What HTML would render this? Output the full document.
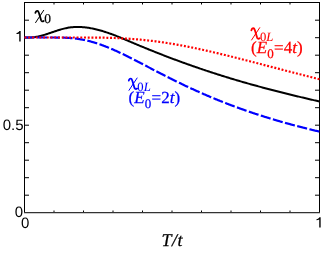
<!DOCTYPE html>
<html><head><meta charset="utf-8"><style>
html,body{margin:0;padding:0;background:#fff;}
svg{display:block;text-rendering:geometricPrecision;will-change:transform}
text{font-family:"Liberation Sans",sans-serif;}
.s, .s text{font-family:"Liberation Serif",serif;}
</style></head><body>
<svg width="327" height="254" viewBox="0 0 327 254">
<defs><path id="one" d="M0,3.1 L0,2.1 C1.4,1.7 2.4,0.9 2.9,0 L4.15,0 L4.15,10.4 L2.75,10.4 L2.75,2.4 C2.0,2.8 1,3.1 0,3.1Z" fill="#000" stroke="none"/><g id="chi" fill="none" stroke="currentColor" stroke-linecap="round"><path d="M0.4,2.9 C0.7,1.3 1.8,0.5 2.8,1.0 C3.7,1.5 4.1,3 4.7,5.5 L6.1,10.2 C6.5,11.4 7.5,11.7 8.7,10.9" stroke-width="1.8"/><path d="M8.7,0.3 L0.6,12.6" stroke-width="1.0"/></g></defs>
<rect width="327" height="254" fill="#fff"/>
<g stroke="#000" stroke-width="1" fill="none">
<line x1="24.5" y1="2" x2="24.5" y2="213"/>
<line x1="319.5" y1="2" x2="319.5" y2="213"/>
<line x1="24" y1="2.5" x2="320" y2="2.5"/>
<line x1="24" y1="212.7" x2="320" y2="212.7" stroke="#333" stroke-width="1.3"/>
<line x1="25" y1="195.2" x2="29" y2="195.2"/><line x1="315" y1="195.2" x2="319" y2="195.2"/><line x1="25" y1="177.7" x2="29" y2="177.7"/><line x1="315" y1="177.7" x2="319" y2="177.7"/><line x1="25" y1="160.2" x2="29" y2="160.2"/><line x1="315" y1="160.2" x2="319" y2="160.2"/><line x1="25" y1="142.7" x2="29" y2="142.7"/><line x1="315" y1="142.7" x2="319" y2="142.7"/><line x1="25" y1="125.2" x2="29" y2="125.2"/><line x1="315" y1="125.2" x2="319" y2="125.2"/><line x1="25" y1="107.7" x2="29" y2="107.7"/><line x1="315" y1="107.7" x2="319" y2="107.7"/><line x1="25" y1="90.2" x2="29" y2="90.2"/><line x1="315" y1="90.2" x2="319" y2="90.2"/><line x1="25" y1="72.7" x2="29" y2="72.7"/><line x1="315" y1="72.7" x2="319" y2="72.7"/><line x1="25" y1="55.2" x2="29" y2="55.2"/><line x1="315" y1="55.2" x2="319" y2="55.2"/><line x1="25" y1="37.7" x2="29" y2="37.7"/><line x1="315" y1="37.7" x2="319" y2="37.7"/><line x1="25" y1="20.2" x2="29" y2="20.2"/><line x1="315" y1="20.2" x2="319" y2="20.2"/><line x1="54.0" y1="210.5" x2="54.0" y2="212" /><line x1="54.0" y1="3" x2="54.0" y2="4.5" /><line x1="83.5" y1="210.5" x2="83.5" y2="212" /><line x1="83.5" y1="3" x2="83.5" y2="4.5" /><line x1="113.0" y1="210.5" x2="113.0" y2="212" /><line x1="113.0" y1="3" x2="113.0" y2="4.5" /><line x1="142.5" y1="210.5" x2="142.5" y2="212" /><line x1="142.5" y1="3" x2="142.5" y2="4.5" /><line x1="172.0" y1="210.5" x2="172.0" y2="212" /><line x1="172.0" y1="3" x2="172.0" y2="4.5" /><line x1="201.5" y1="210.5" x2="201.5" y2="212" /><line x1="201.5" y1="3" x2="201.5" y2="4.5" /><line x1="231.0" y1="210.5" x2="231.0" y2="212" /><line x1="231.0" y1="3" x2="231.0" y2="4.5" /><line x1="260.5" y1="210.5" x2="260.5" y2="212" /><line x1="260.5" y1="3" x2="260.5" y2="4.5" /><line x1="290.0" y1="210.5" x2="290.0" y2="212" /><line x1="290.0" y1="3" x2="290.0" y2="4.5" />
</g>
<path d="M24.50,37.45 L25.49,37.52 L26.47,37.57 L27.46,37.59 L28.45,37.59 L29.43,37.57 L30.42,37.53 L31.41,37.46 L32.39,37.37 L33.38,37.26 L34.37,37.13 L35.35,36.99 L36.34,36.82 L37.33,36.63 L38.31,36.43 L39.30,36.21 L40.29,35.98 L41.27,35.73 L42.26,35.47 L43.25,35.19 L44.23,34.90 L45.22,34.60 L46.21,34.29 L47.19,33.97 L48.18,33.65 L49.17,33.32 L50.15,32.98 L51.14,32.65 L52.13,32.31 L53.11,31.97 L54.10,31.63 L55.09,31.29 L56.07,30.96 L57.06,30.64 L58.05,30.32 L59.03,30.00 L60.02,29.70 L61.01,29.41 L61.99,29.13 L62.98,28.86 L63.96,28.61 L64.95,28.38 L65.94,28.16 L66.92,27.96 L67.91,27.78 L68.90,27.61 L69.88,27.47 L70.87,27.35 L71.86,27.24 L72.84,27.15 L73.83,27.08 L74.82,27.02 L75.80,26.98 L76.79,26.96 L77.78,26.95 L78.76,26.96 L79.75,26.98 L80.74,27.02 L81.72,27.08 L82.71,27.15 L83.70,27.23 L84.68,27.32 L85.67,27.43 L86.66,27.56 L87.64,27.69 L88.63,27.84 L89.62,28.00 L90.60,28.18 L91.59,28.36 L92.58,28.56 L93.56,28.76 L94.55,28.98 L95.54,29.21 L96.52,29.45 L97.51,29.70 L98.50,29.95 L99.48,30.22 L100.47,30.50 L101.46,30.78 L102.44,31.08 L103.43,31.38 L104.42,31.69 L105.40,32.01 L106.39,32.33 L107.38,32.66 L108.36,33.00 L109.35,33.35 L110.34,33.70 L111.32,34.06 L112.31,34.42 L113.30,34.79 L114.28,35.17 L115.27,35.54 L116.26,35.93 L117.24,36.32 L118.23,36.71 L119.22,37.11 L120.20,37.50 L121.19,37.91 L122.18,38.31 L123.16,38.72 L124.15,39.13 L125.14,39.54 L126.12,39.96 L127.11,40.38 L128.10,40.79 L129.08,41.21 L130.07,41.63 L131.06,42.05 L132.04,42.47 L133.03,42.89 L134.02,43.31 L135.00,43.73 L135.99,44.14 L136.97,44.56 L137.96,44.97 L138.95,45.39 L139.93,45.80 L140.92,46.21 L141.91,46.62 L142.89,47.03 L143.88,47.44 L144.87,47.84 L145.85,48.25 L146.84,48.65 L147.83,49.05 L148.81,49.45 L149.80,49.85 L150.79,50.25 L151.77,50.65 L152.76,51.04 L153.75,51.44 L154.73,51.83 L155.72,52.22 L156.71,52.62 L157.69,53.00 L158.68,53.39 L159.67,53.78 L160.65,54.17 L161.64,54.55 L162.63,54.93 L163.61,55.32 L164.60,55.70 L165.59,56.08 L166.57,56.45 L167.56,56.83 L168.55,57.21 L169.53,57.58 L170.52,57.95 L171.51,58.33 L172.49,58.70 L173.48,59.07 L174.47,59.44 L175.45,59.80 L176.44,60.17 L177.43,60.53 L178.41,60.90 L179.40,61.26 L180.39,61.62 L181.37,61.98 L182.36,62.34 L183.35,62.70 L184.33,63.05 L185.32,63.41 L186.31,63.76 L187.29,64.11 L188.28,64.46 L189.27,64.81 L190.25,65.16 L191.24,65.51 L192.23,65.86 L193.21,66.20 L194.20,66.54 L195.19,66.89 L196.17,67.23 L197.16,67.57 L198.15,67.91 L199.13,68.25 L200.12,68.58 L201.11,68.92 L202.09,69.25 L203.08,69.58 L204.07,69.92 L205.05,70.25 L206.04,70.58 L207.03,70.90 L208.01,71.23 L209.00,71.56 L209.98,71.88 L210.97,72.20 L211.96,72.53 L212.94,72.85 L213.93,73.17 L214.92,73.49 L215.90,73.80 L216.89,74.12 L217.88,74.44 L218.86,74.75 L219.85,75.06 L220.84,75.37 L221.82,75.68 L222.81,75.99 L223.80,76.30 L224.78,76.61 L225.77,76.91 L226.76,77.22 L227.74,77.52 L228.73,77.82 L229.72,78.12 L230.70,78.42 L231.69,78.72 L232.68,79.02 L233.66,79.31 L234.65,79.61 L235.64,79.90 L236.62,80.20 L237.61,80.49 L238.60,80.78 L239.58,81.07 L240.57,81.35 L241.56,81.64 L242.54,81.93 L243.53,82.21 L244.52,82.50 L245.50,82.78 L246.49,83.06 L247.48,83.34 L248.46,83.62 L249.45,83.90 L250.44,84.17 L251.42,84.45 L252.41,84.72 L253.40,85.00 L254.38,85.27 L255.37,85.54 L256.36,85.81 L257.34,86.08 L258.33,86.35 L259.32,86.62 L260.30,86.89 L261.29,87.15 L262.28,87.42 L263.26,87.68 L264.25,87.95 L265.24,88.21 L266.22,88.47 L267.21,88.73 L268.20,88.99 L269.18,89.25 L270.17,89.51 L271.16,89.76 L272.14,90.02 L273.13,90.28 L274.12,90.53 L275.10,90.78 L276.09,91.04 L277.08,91.29 L278.06,91.54 L279.05,91.79 L280.04,92.04 L281.02,92.29 L282.01,92.54 L282.99,92.78 L283.98,93.03 L284.97,93.28 L285.95,93.52 L286.94,93.77 L287.93,94.01 L288.91,94.25 L289.90,94.49 L290.89,94.74 L291.87,94.98 L292.86,95.22 L293.85,95.46 L294.83,95.70 L295.82,95.93 L296.81,96.17 L297.79,96.41 L298.78,96.65 L299.77,96.88 L300.75,97.12 L301.74,97.35 L302.73,97.59 L303.71,97.82 L304.70,98.05 L305.69,98.28 L306.67,98.52 L307.66,98.75 L308.65,98.98 L309.63,99.21 L310.62,99.44 L311.61,99.67 L312.59,99.90 L313.58,100.12 L314.57,100.35 L315.55,100.58 L316.54,100.81 L317.53,101.03 L318.51,101.26 L319.50,101.49" fill="none" stroke="#000" stroke-width="2"/>
<path d="M24.50,37.50 L24.99,37.50 L25.48,37.50 L25.98,37.50 L26.47,37.50 L26.96,37.50 L27.45,37.50 L27.94,37.50 L28.43,37.50 L28.93,37.50 L29.42,37.50 L29.91,37.50 L30.40,37.50 L30.89,37.50 L31.38,37.50 L31.88,37.50 L32.37,37.50 L32.86,37.50 L33.35,37.50 L33.84,37.50 L34.33,37.50 L34.83,37.50 L35.32,37.50 L35.81,37.50 L36.30,37.50 L36.79,37.50 L37.28,37.50 L37.77,37.50 L38.27,37.50 L38.76,37.50 L39.25,37.50 L39.74,37.50 L40.23,37.50 L40.73,37.50 L41.22,37.50 L41.71,37.50 L42.20,37.50 L42.69,37.50 L43.18,37.50 L43.67,37.50 L44.17,37.50 L44.66,37.50 L45.15,37.50 L45.64,37.50 L46.13,37.50 L46.62,37.50 L47.12,37.50 L47.61,37.50 L48.10,37.50 L48.59,37.50 L49.08,37.50 L49.58,37.50 L50.07,37.50 L50.56,37.50 L51.05,37.51 L51.54,37.51 L52.03,37.51 L52.52,37.51 L53.02,37.51 L53.51,37.51 L54.00,37.52 L54.49,37.52 L54.98,37.52 L55.47,37.53 L55.97,37.53 L56.46,37.53 L56.95,37.54 L57.44,37.55 L57.93,37.55 L58.43,37.56 L58.92,37.57 L59.41,37.57 L59.90,37.58 L60.39,37.59 L60.88,37.61 L61.38,37.62 L61.87,37.63 L62.36,37.64 L62.85,37.66 L63.34,37.68 L63.83,37.69 L64.33,37.71 L64.82,37.73 L65.31,37.75 L65.80,37.78 L66.29,37.80 L66.78,37.83 L67.28,37.85 L67.77,37.88 L68.26,37.91 L68.75,37.94 L69.24,37.98 L69.73,38.01 L70.22,38.05 L70.72,38.09 L71.21,38.13 L71.70,38.17 L72.19,38.22 L72.68,38.27 L73.18,38.31 L73.67,38.37 L74.16,38.42 L74.65,38.47 L75.14,38.53 L75.63,38.59 L76.12,38.65 L76.62,38.71 L77.11,38.78 L77.60,38.85 L78.09,38.92 L78.58,38.99 L79.08,39.07 L79.57,39.14 L80.06,39.22 L80.55,39.30 L81.04,39.39 L81.53,39.47 L82.03,39.56 L82.52,39.65 L83.01,39.75 L83.50,39.84 L83.99,39.94 L84.48,40.04 L84.97,40.14 L85.47,40.25 L85.96,40.36 L86.45,40.47 L86.94,40.58 L87.43,40.69 L87.92,40.81 L88.42,40.93 L88.91,41.05 L89.40,41.18 L89.89,41.30 L90.38,41.43 L90.88,41.56 L91.37,41.70 L91.86,41.83 L92.35,41.97 L92.84,42.11 L93.33,42.25 L93.83,42.40 L94.32,42.54 L94.81,42.69 L95.30,42.84 L95.79,43.00 L96.28,43.15 L96.78,43.31 L97.27,43.47 L97.76,43.63 L98.25,43.80 L98.74,43.96 L99.23,44.13 L99.72,44.30 L100.22,44.47 L100.71,44.64 L101.20,44.82 L101.69,45.00 L102.18,45.18 L102.67,45.36 L103.17,45.54 L103.66,45.73 L104.15,45.91 L104.64,46.10 L105.13,46.29 L105.62,46.49 L106.12,46.68 L106.61,46.87 L107.10,47.07 L107.59,47.27 L108.08,47.47 L108.57,47.67 L109.07,47.88 L109.56,48.08 L110.05,48.29 L110.54,48.50 L111.03,48.70 L111.52,48.92 L112.02,49.13 L112.51,49.34 L113.00,49.56 L113.49,49.77 L113.98,49.99 L114.47,50.21 L114.97,50.43 L115.46,50.65 L115.95,50.87 L116.44,51.10 L116.93,51.32 L117.42,51.55 L117.92,51.77 L118.41,52.00 L118.90,52.23 L119.39,52.46 L119.88,52.69 L120.38,52.92 L120.87,53.16 L121.36,53.39 L121.85,53.63 L122.34,53.86 L122.83,54.10 L123.33,54.34 L123.82,54.58 L124.31,54.81 L124.80,55.05 L125.29,55.30 L125.78,55.54 L126.27,55.78 L126.77,56.02 L127.26,56.27 L127.75,56.51 L128.24,56.75 L128.73,57.00 L129.22,57.25 L129.72,57.49 L130.21,57.74 L130.70,57.99 L131.19,58.24 L131.68,58.49 L132.18,58.73 L132.67,58.98 L133.16,59.23 L133.65,59.48 L134.14,59.74 L134.63,59.99 L135.12,60.24 L135.62,60.49 L136.11,60.74 L136.60,61.00 L137.09,61.25 L137.58,61.50 L138.07,61.76 L138.57,62.01 L139.06,62.27 L139.55,62.52 L140.04,62.77 L140.53,63.03 L141.03,63.28 L141.52,63.54 L142.01,63.79 L142.50,64.05 L142.99,64.31 L143.48,64.56 L143.98,64.82 L144.47,65.07 L144.96,65.33 L145.45,65.59 L145.94,65.84 L146.43,66.10 L146.93,66.35 L147.42,66.61 L147.91,66.87 L148.40,67.12 L148.89,67.38 L149.38,67.64 L149.88,67.89 L150.37,68.15 L150.86,68.40 L151.35,68.66 L151.84,68.92 L152.33,69.17 L152.82,69.43 L153.32,69.68 L153.81,69.94 L154.30,70.19 L154.79,70.45 L155.28,70.70 L155.78,70.96 L156.27,71.21 L156.76,71.47 L157.25,71.72 L157.74,71.97 L158.23,72.23 L158.72,72.48 L159.22,72.74 L159.71,72.99 L160.20,73.24 L160.69,73.49 L161.18,73.75 L161.68,74.00 L162.17,74.25 L162.66,74.50 L163.15,74.75 L163.64,75.00 L164.13,75.25 L164.62,75.51 L165.12,75.76 L165.61,76.01 L166.10,76.25 L166.59,76.50 L167.08,76.75 L167.57,77.00 L168.07,77.25 L168.56,77.50 L169.05,77.74 L169.54,77.99 L170.03,78.24 L170.53,78.48 L171.02,78.73 L171.51,78.98 L172.00,79.22 L172.49,79.47 L172.98,79.71 L173.47,79.95 L173.97,80.20 L174.46,80.44 L174.95,80.68 L175.44,80.93 L175.93,81.17 L176.43,81.41 L176.92,81.65 L177.41,81.89 L177.90,82.13 L178.39,82.37 L178.88,82.61 L179.38,82.85 L179.87,83.09 L180.36,83.33 L180.85,83.56 L181.34,83.80 L181.83,84.04 L182.33,84.27 L182.82,84.51 L183.31,84.74 L183.80,84.98 L184.29,85.21 L184.78,85.45 L185.28,85.68 L185.77,85.91 L186.26,86.15 L186.75,86.38 L187.24,86.61 L187.73,86.84 L188.23,87.07 L188.72,87.30 L189.21,87.53 L189.70,87.76 L190.19,87.99 L190.68,88.22 L191.17,88.44 L191.67,88.67 L192.16,88.90 L192.65,89.12 L193.14,89.35 L193.63,89.57 L194.12,89.80 L194.62,90.02 L195.11,90.25 L195.60,90.47 L196.09,90.69 L196.58,90.91 L197.07,91.13 L197.57,91.36 L198.06,91.58 L198.55,91.80 L199.04,92.02 L199.53,92.23 L200.03,92.45 L200.52,92.67 L201.01,92.89 L201.50,93.10 L201.99,93.32 L202.48,93.54 L202.97,93.75 L203.47,93.97 L203.96,94.18 L204.45,94.39 L204.94,94.61 L205.43,94.82 L205.93,95.03 L206.42,95.24 L206.91,95.45 L207.40,95.67 L207.89,95.88 L208.38,96.08 L208.88,96.29 L209.37,96.50 L209.86,96.71 L210.35,96.92 L210.84,97.12 L211.33,97.33 L211.82,97.54 L212.32,97.74 L212.81,97.95 L213.30,98.15 L213.79,98.35 L214.28,98.56 L214.78,98.76 L215.27,98.96 L215.76,99.16 L216.25,99.37 L216.74,99.57 L217.23,99.77 L217.72,99.97 L218.22,100.17 L218.71,100.36 L219.20,100.56 L219.69,100.76 L220.18,100.96 L220.68,101.15 L221.17,101.35 L221.66,101.54 L222.15,101.74 L222.64,101.93 L223.13,102.13 L223.62,102.32 L224.12,102.51 L224.61,102.71 L225.10,102.90 L225.59,103.09 L226.08,103.28 L226.58,103.47 L227.07,103.66 L227.56,103.85 L228.05,104.04 L228.54,104.23 L229.03,104.42 L229.52,104.60 L230.02,104.79 L230.51,104.98 L231.00,105.16 L231.49,105.35 L231.98,105.53 L232.47,105.72 L232.97,105.90 L233.46,106.08 L233.95,106.27 L234.44,106.45 L234.93,106.63 L235.42,106.81 L235.92,106.99 L236.41,107.17 L236.90,107.35 L237.39,107.53 L237.88,107.71 L238.38,107.89 L238.87,108.07 L239.36,108.25 L239.85,108.42 L240.34,108.60 L240.83,108.78 L241.32,108.95 L241.82,109.13 L242.31,109.30 L242.80,109.48 L243.29,109.65 L243.78,109.82 L244.28,110.00 L244.77,110.17 L245.26,110.34 L245.75,110.51 L246.24,110.68 L246.73,110.85 L247.22,111.02 L247.72,111.19 L248.21,111.36 L248.70,111.53 L249.19,111.70 L249.68,111.87 L250.18,112.04 L250.67,112.20 L251.16,112.37 L251.65,112.53 L252.14,112.70 L252.63,112.86 L253.12,113.03 L253.62,113.19 L254.11,113.36 L254.60,113.52 L255.09,113.68 L255.58,113.85 L256.08,114.01 L256.57,114.17 L257.06,114.33 L257.55,114.49 L258.04,114.65 L258.53,114.81 L259.02,114.97 L259.52,115.13 L260.01,115.29 L260.50,115.45 L260.99,115.60 L261.48,115.76 L261.98,115.92 L262.47,116.07 L262.96,116.23 L263.45,116.38 L263.94,116.54 L264.43,116.69 L264.92,116.85 L265.42,117.00 L265.91,117.15 L266.40,117.31 L266.89,117.46 L267.38,117.61 L267.88,117.76 L268.37,117.92 L268.86,118.07 L269.35,118.22 L269.84,118.37 L270.33,118.52 L270.82,118.67 L271.32,118.81 L271.81,118.96 L272.30,119.11 L272.79,119.26 L273.28,119.41 L273.77,119.55 L274.27,119.70 L274.76,119.84 L275.25,119.99 L275.74,120.14 L276.23,120.28 L276.73,120.43 L277.22,120.57 L277.71,120.71 L278.20,120.86 L278.69,121.00 L279.18,121.14 L279.68,121.28 L280.17,121.43 L280.66,121.57 L281.15,121.71 L281.64,121.85 L282.13,121.99 L282.62,122.13 L283.12,122.27 L283.61,122.41 L284.10,122.55 L284.59,122.68 L285.08,122.82 L285.57,122.96 L286.07,123.10 L286.56,123.23 L287.05,123.37 L287.54,123.51 L288.03,123.64 L288.52,123.78 L289.02,123.91 L289.51,124.05 L290.00,124.18 L290.49,124.32 L290.98,124.45 L291.48,124.58 L291.97,124.72 L292.46,124.85 L292.95,124.98 L293.44,125.11 L293.93,125.24 L294.43,125.38 L294.92,125.51 L295.41,125.64 L295.90,125.77 L296.39,125.90 L296.88,126.03 L297.38,126.16 L297.87,126.28 L298.36,126.41 L298.85,126.54 L299.34,126.67 L299.83,126.80 L300.32,126.92 L300.82,127.05 L301.31,127.18 L301.80,127.30 L302.29,127.43 L302.78,127.55 L303.27,127.68 L303.77,127.80 L304.26,127.93 L304.75,128.05 L305.24,128.18 L305.73,128.30 L306.22,128.42 L306.72,128.55 L307.21,128.67 L307.70,128.79 L308.19,128.91 L308.68,129.03 L309.18,129.15 L309.67,129.28 L310.16,129.40 L310.65,129.52 L311.14,129.64 L311.63,129.76 L312.12,129.88 L312.62,129.99 L313.11,130.11 L313.60,130.23 L314.09,130.35 L314.58,130.47 L315.07,130.59 L315.57,130.70 L316.06,130.82 L316.55,130.94 L317.04,131.05 L317.53,131.17 L318.02,131.28 L318.52,131.40 L319.01,131.51 L319.50,131.63" fill="none" stroke="#0000ff" stroke-width="2.2" stroke-dasharray="10.2 2.42"/>
<path d="M24.50,37.50 L25.48,37.50 L26.47,37.50 L27.45,37.50 L28.43,37.50 L29.42,37.50 L30.40,37.50 L31.38,37.50 L32.37,37.50 L33.35,37.50 L34.33,37.50 L35.32,37.50 L36.30,37.50 L37.28,37.50 L38.27,37.50 L39.25,37.50 L40.23,37.50 L41.22,37.50 L42.20,37.50 L43.18,37.50 L44.17,37.50 L45.15,37.50 L46.13,37.50 L47.12,37.50 L48.10,37.50 L49.08,37.50 L50.07,37.50 L51.05,37.50 L52.03,37.50 L53.02,37.50 L54.00,37.50 L54.98,37.50 L55.97,37.50 L56.95,37.50 L57.93,37.50 L58.92,37.50 L59.90,37.50 L60.88,37.50 L61.87,37.50 L62.85,37.50 L63.83,37.50 L64.82,37.50 L65.80,37.50 L66.78,37.50 L67.77,37.50 L68.75,37.50 L69.73,37.50 L70.72,37.50 L71.70,37.50 L72.68,37.50 L73.67,37.50 L74.65,37.50 L75.63,37.50 L76.62,37.50 L77.60,37.51 L78.58,37.51 L79.57,37.51 L80.55,37.51 L81.53,37.51 L82.52,37.51 L83.50,37.52 L84.48,37.52 L85.47,37.52 L86.45,37.53 L87.43,37.53 L88.42,37.53 L89.40,37.54 L90.38,37.55 L91.37,37.55 L92.35,37.56 L93.33,37.57 L94.32,37.57 L95.30,37.58 L96.28,37.59 L97.27,37.61 L98.25,37.62 L99.23,37.63 L100.22,37.64 L101.20,37.66 L102.18,37.68 L103.17,37.69 L104.15,37.71 L105.13,37.73 L106.12,37.75 L107.10,37.78 L108.08,37.80 L109.07,37.83 L110.05,37.85 L111.03,37.88 L112.02,37.91 L113.00,37.94 L113.98,37.98 L114.97,38.01 L115.95,38.05 L116.93,38.09 L117.92,38.13 L118.90,38.17 L119.88,38.22 L120.87,38.27 L121.85,38.31 L122.83,38.37 L123.82,38.42 L124.80,38.47 L125.78,38.53 L126.77,38.59 L127.75,38.65 L128.73,38.71 L129.72,38.78 L130.70,38.85 L131.68,38.92 L132.67,38.99 L133.65,39.07 L134.63,39.14 L135.62,39.22 L136.60,39.30 L137.58,39.39 L138.57,39.47 L139.55,39.56 L140.53,39.65 L141.52,39.75 L142.50,39.84 L143.48,39.94 L144.47,40.04 L145.45,40.14 L146.43,40.25 L147.42,40.36 L148.40,40.47 L149.38,40.58 L150.37,40.69 L151.35,40.81 L152.33,40.93 L153.32,41.05 L154.30,41.18 L155.28,41.30 L156.27,41.43 L157.25,41.56 L158.23,41.70 L159.22,41.83 L160.20,41.97 L161.18,42.11 L162.17,42.25 L163.15,42.40 L164.13,42.54 L165.12,42.69 L166.10,42.84 L167.08,43.00 L168.07,43.15 L169.05,43.31 L170.03,43.47 L171.02,43.63 L172.00,43.80 L172.98,43.96 L173.97,44.13 L174.95,44.30 L175.93,44.47 L176.92,44.64 L177.90,44.82 L178.88,45.00 L179.87,45.18 L180.85,45.36 L181.83,45.54 L182.82,45.73 L183.80,45.91 L184.78,46.10 L185.77,46.29 L186.75,46.49 L187.73,46.68 L188.72,46.87 L189.70,47.07 L190.68,47.27 L191.67,47.47 L192.65,47.67 L193.63,47.88 L194.62,48.08 L195.60,48.29 L196.58,48.50 L197.57,48.70 L198.55,48.92 L199.53,49.13 L200.52,49.34 L201.50,49.56 L202.48,49.77 L203.47,49.99 L204.45,50.21 L205.43,50.43 L206.42,50.65 L207.40,50.87 L208.38,51.10 L209.37,51.32 L210.35,51.55 L211.33,51.77 L212.32,52.00 L213.30,52.23 L214.28,52.46 L215.27,52.69 L216.25,52.92 L217.23,53.16 L218.22,53.39 L219.20,53.63 L220.18,53.86 L221.17,54.10 L222.15,54.34 L223.13,54.58 L224.12,54.81 L225.10,55.05 L226.08,55.30 L227.07,55.54 L228.05,55.78 L229.03,56.02 L230.02,56.27 L231.00,56.51 L231.98,56.75 L232.97,57.00 L233.95,57.25 L234.93,57.49 L235.92,57.74 L236.90,57.99 L237.88,58.24 L238.87,58.49 L239.85,58.73 L240.83,58.98 L241.82,59.23 L242.80,59.48 L243.78,59.74 L244.77,59.99 L245.75,60.24 L246.73,60.49 L247.72,60.74 L248.70,61.00 L249.68,61.25 L250.67,61.50 L251.65,61.76 L252.63,62.01 L253.62,62.27 L254.60,62.52 L255.58,62.77 L256.57,63.03 L257.55,63.28 L258.53,63.54 L259.52,63.79 L260.50,64.05 L261.48,64.31 L262.47,64.56 L263.45,64.82 L264.43,65.07 L265.42,65.33 L266.40,65.59 L267.38,65.84 L268.37,66.10 L269.35,66.35 L270.33,66.61 L271.32,66.87 L272.30,67.12 L273.28,67.38 L274.27,67.64 L275.25,67.89 L276.23,68.15 L277.22,68.40 L278.20,68.66 L279.18,68.92 L280.17,69.17 L281.15,69.43 L282.13,69.68 L283.12,69.94 L284.10,70.19 L285.08,70.45 L286.07,70.70 L287.05,70.96 L288.03,71.21 L289.02,71.47 L290.00,71.72 L290.98,71.97 L291.97,72.23 L292.95,72.48 L293.93,72.74 L294.92,72.99 L295.90,73.24 L296.88,73.49 L297.87,73.75 L298.85,74.00 L299.83,74.25 L300.82,74.50 L301.80,74.75 L302.78,75.00 L303.77,75.25 L304.75,75.51 L305.73,75.76 L306.72,76.01 L307.70,76.25 L308.68,76.50 L309.67,76.75 L310.65,77.00 L311.63,77.25 L312.62,77.50 L313.60,77.74 L314.58,77.99 L315.57,78.24 L316.55,78.48 L317.53,78.73 L318.52,78.98 L319.50,79.22" fill="none" stroke="#ff0000" stroke-width="2.2" stroke-dasharray="1.95 1.77"/>
<g font-size="15" fill="#000">
<use href="#one" x="16.5" y="31"/>
<text x="23.5" y="130.0" text-anchor="end">0.5</text>
<text x="23" y="217.0" text-anchor="end">0</text>
<text x="25.1" y="227.6" text-anchor="middle">0</text>
<use href="#one" x="316.5" y="217.2"/>
</g>
<text class="s" x="161.6" y="246.4" font-size="18" font-style="italic" letter-spacing="0.5" stroke="#000" stroke-width="0.25">T/t</text>
<use href="#chi" x="35" y="10" color="#000"/>
<text class="s" x="44.2" y="23.4" font-size="13.5" stroke="#000" stroke-width="0.2">0</text>
<g fill="#0000ff" stroke="#0000ff" stroke-width="0.25" class="s" font-size="17" letter-spacing="0.12">
<use href="#chi" x="128.4" y="77.7" color="#0000ff"/>
<text x="137.3" y="91.0" font-size="12.6" stroke-width="0.1">0<tspan font-style="italic">L</tspan></text>
<text x="128.5" y="103.4">(<tspan font-style="italic">E</tspan><tspan font-size="13" dy="4.5">0</tspan><tspan dy="-4.5">=2</tspan><tspan font-style="italic">t</tspan>)</text>
</g>
<g fill="#ff0000" stroke="#ff0000" stroke-width="0.25" class="s" font-size="17" letter-spacing="0.12">
<use href="#chi" x="251.0" y="27.4" color="#ff0000"/>
<text x="259.9" y="40.7" font-size="12.6" stroke-width="0.1">0<tspan font-style="italic">L</tspan></text>
<text x="251" y="53.2">(<tspan font-style="italic">E</tspan><tspan font-size="13" dy="4.5">0</tspan><tspan dy="-4.5">=4</tspan><tspan font-style="italic">t</tspan>)</text>
</g>
</svg>
</body></html>
